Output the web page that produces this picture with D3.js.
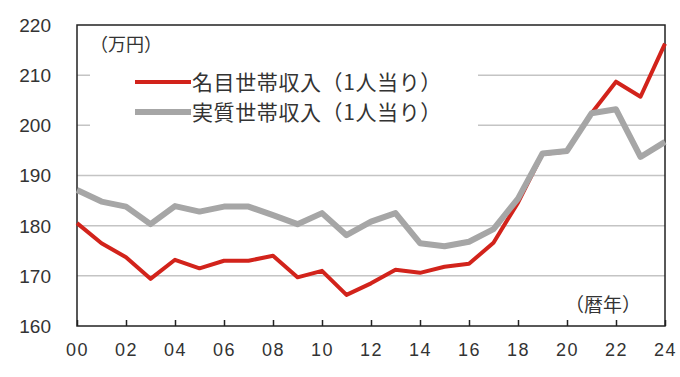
<!DOCTYPE html>
<html><head><meta charset="utf-8">
<script src="https://cdn.jsdelivr.net/npm/d3@7"></script>
<style>
body{margin:0;background:#fff;}
svg{display:block;font-family:"Noto Sans CJK JP","Liberation Sans",sans-serif;}
</style></head>
<body><svg id="c" width="680" height="377"></svg>
<script>
const years = d3.range(2000, 2025);
const nominal = [180.5,176.5,173.7,169.4,173.2,171.5,173.0,173.0,174.0,169.7,171.0,166.2,168.5,171.2,170.6,171.8,172.4,176.6,184.6,194.3,194.8,202.4,208.7,205.7,216.3];
const real    = [187.1,184.8,183.8,180.3,183.9,182.8,183.8,183.8,182.1,180.3,182.5,178.1,180.8,182.5,176.5,175.9,176.8,179.3,185.4,194.4,194.9,202.4,203.2,193.7,196.7];
const yTicks = [160,170,180,190,200,210,220];
const xTicks = d3.range(2000, 2025, 2);
const seriesNames = ["名目世帯収入（1人当り）","実質世帯収入（1人当り）"];
const colors = ["#d2231b","#a6a6a6"];
const unitLabel = "（万円）";
const xUnitLabel = "（暦年）";

const svg = d3.select("#c");
const L=77, R=665, T=25, B=326;
const x = d3.scaleLinear().domain([2000,2024]).range([L,R]);
const y = d3.scaleLinear().domain([160,220]).range([B,T]);

// gridlines
svg.append("g").selectAll("line").data(yTicks.filter(v=>v>160 && v<220)).join("line")
  .attr("x1",L).attr("x2",R).attr("y1",d=>y(d)).attr("y2",d=>y(d))
  .attr("stroke","#c4c4c4").attr("stroke-width",1.5);

// legend background box
svg.append("rect").attr("x",90).attr("y",56).attr("width",388).attr("height",84).attr("fill","#fff");

// y labels
svg.append("g").selectAll("text").data(yTicks).join("text")
  .attr("x",51).attr("y",d=>y(d)).attr("dy","0.36em").attr("text-anchor","end")
  .attr("font-size",19).attr("fill","#333").attr("font-family","Liberation Sans, Arial, sans-serif")
  .text(d=>d);

// x axis
const xAxis = d3.axisBottom(x).tickValues(xTicks).tickSize(-6).tickFormat(d=>String(d%100).padStart(2,"0"));
const gx = svg.append("g").attr("transform",`translate(0,${B})`).call(xAxis);
gx.select(".domain").remove();
gx.selectAll(".tick line").attr("stroke","#222").attr("stroke-width",1.5);
gx.selectAll(".tick text").attr("y",24).attr("dy","0.36em").attr("font-size",18).attr("fill","#333")
  .attr("letter-spacing","1.5px").attr("font-family","Liberation Sans, Arial, sans-serif");

// frame
svg.append("rect").attr("x",L).attr("y",T).attr("width",R-L).attr("height",B-T)
  .attr("fill","none").attr("stroke","#222").attr("stroke-width",1.5);

// lines
const line = d3.line().x((d,i)=>x(years[i])).y(d=>y(d));
svg.append("path").datum(nominal).attr("d",line).attr("fill","none")
  .attr("stroke",colors[0]).attr("stroke-width",4).attr("stroke-linejoin","round");
svg.append("path").datum(real).attr("d",line).attr("fill","none")
  .attr("stroke",colors[1]).attr("stroke-width",6).attr("stroke-linejoin","round");

// legend
const lg = svg.append("g");
seriesNames.forEach((n,i)=>{
  const yy = 82 + i*30;
  lg.append("line").attr("x1",135).attr("x2",191).attr("y1",yy).attr("y2",yy)
    .attr("stroke",colors[i]).attr("stroke-width",i===0?4:6);
  lg.append("text").attr("x",192).attr("y",yy).attr("dy","0.36em").attr("font-size",21)
    .attr("letter-spacing","0.6px").attr("fill","#333").text(n);
});

svg.append("text").attr("x",90).attr("y",45).attr("dy","0.36em").attr("font-size",18).attr("fill","#333").text(unitLabel);
svg.append("text").attr("x",565).attr("y",305).attr("dy","0.36em").attr("font-size",19).attr("fill","#333").text(xUnitLabel);
</script></body></html>
